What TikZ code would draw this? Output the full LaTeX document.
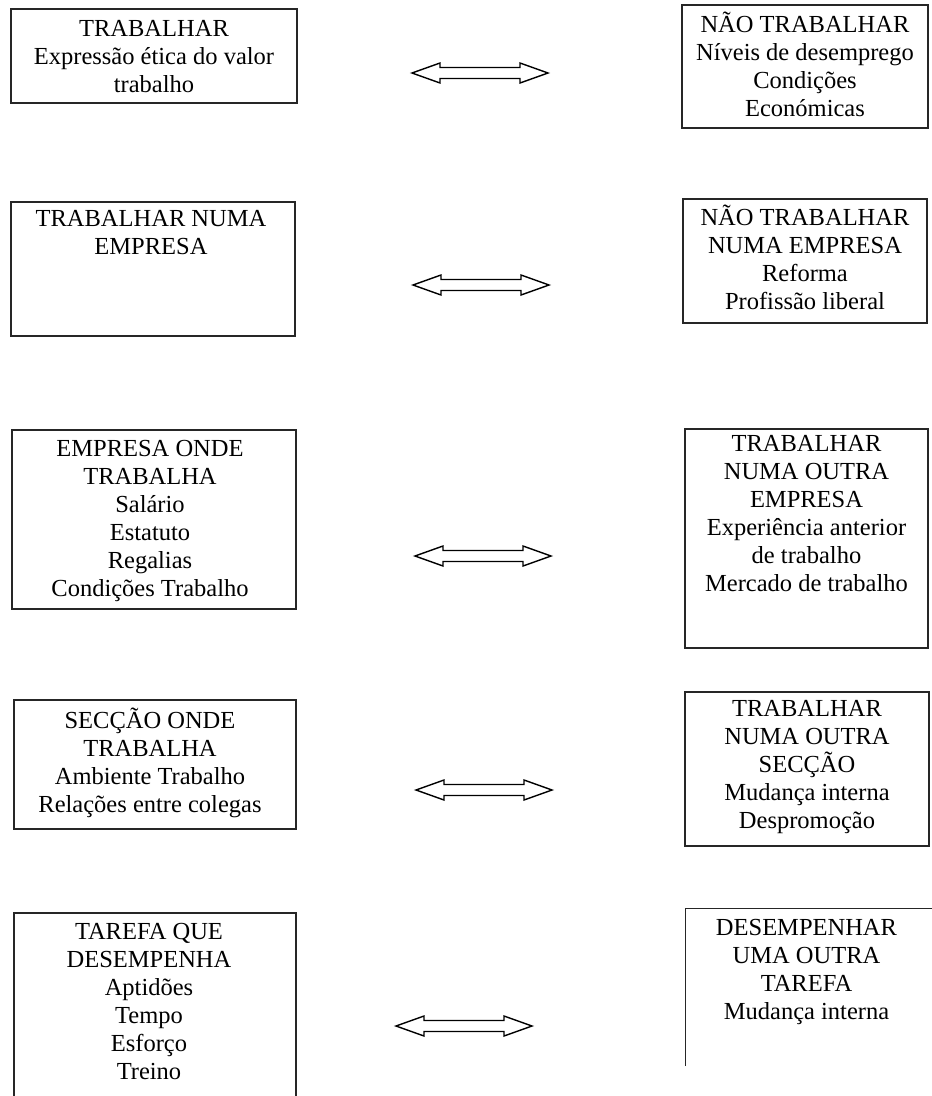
\documentclass[tikz,border=0pt]{standalone}
\usepackage{fontspec}
\setmainfont{Liberation Serif}
\usetikzlibrary{calc}
\begin{document}
\begin{tikzpicture}[x=1pt,y=-1pt,
  box/.style={draw=black!85, line width=1.3pt, inner sep=0pt},
  openbox/.style={inner sep=0pt},
  boxtext/.style={anchor=north, inner sep=0pt, align=center,
    font=\fontsize{24.5}{28}\selectfont},
  dblarrow/.style={draw=black, line width=1.4pt, line join=miter}]
\useasboundingbox (0,0) rectangle (932,1096);
\clip (0,0) rectangle (932,1096);

% left column
\node[box, line width=2pt, minimum width=286pt, minimum height=94pt] (l1) at (154,56) {};
\node[box, minimum width=284pt, minimum height=134pt] (l2) at (153,269) {};
\node[box, minimum width=284pt, minimum height=179pt] (l3) at (154,519.5) {};
\node[box, minimum width=282pt, minimum height=129pt] (l4) at (155,764.5) {};
\node[box, minimum width=282pt, minimum height=197pt] (l5) at (155,1011.5) {};

% right column
\node[box, minimum width=246pt, minimum height=123pt] (r1) at (805,66.5) {};
\node[box, minimum width=244pt, minimum height=124pt] (r2) at (805,261) {};
\node[box, minimum width=243pt, minimum height=219pt] (r3) at (806.5,538.5) {};
\node[box, minimum width=244pt, minimum height=154pt] (r4) at (807,769) {};
\node[openbox, minimum width=249pt, minimum height=157pt] (r5) at (810.5,987.5) {};
\draw[draw=black!85, line width=1.3pt] (r5.south west) -- (r5.north west) -- (r5.north east);

% texts
\node[boxtext] (l1t) at ([yshift=-8.5pt]l1.north) {\strut TRABALHAR\\Expressão ética do valor\\trabalho};
\node[boxtext] (l2t) at ([yshift=-5.5pt,xshift=-2pt]l2.north) {\strut TRABALHAR NUMA\\EMPRESA};
\node[boxtext] (l3t) at ([yshift=-7.5pt,xshift=-4pt]l3.north) {\strut EMPRESA ONDE\\TRABALHA\\Salário\\Estatuto\\Regalias\\Condições Trabalho};
\node[boxtext] (l4t) at ([yshift=-8.5pt,xshift=-5pt]l4.north) {\strut SECÇÃO ONDE\\TRABALHA\\Ambiente Trabalho\\Relações entre colegas};
\node[boxtext] (l5t) at ([yshift=-7.5pt,xshift=-6pt]l5.north) {\strut TAREFA QUE\\DESEMPENHA\\Aptidões\\Tempo\\Esforço\\Treino};

\node[boxtext] (r1t) at ([yshift=-7.5pt]r1.north) {\strut NÃO TRABALHAR\\Níveis de desemprego\\Condições\\Económicas};
\node[boxtext] (r2t) at ([yshift=-6.5pt]r2.north) {\strut NÃO TRABALHAR\\NUMA EMPRESA\\Reforma\\Profissão liberal};
\node[boxtext] (r3t) at ([yshift=-3.5pt]r3.north) {\strut TRABALHAR\\NUMA OUTRA\\EMPRESA\\Experiência anterior\\de trabalho\\Mercado de trabalho};
\node[boxtext] (r4t) at ([yshift=-5.5pt]r4.north) {\strut TRABALHAR\\NUMA OUTRA\\SECÇÃO\\Mudança interna\\Despromoção};
\node[boxtext] (r5t) at ([yshift=-6.5pt,xshift=-4pt]r5.north) {\strut DESEMPENHAR\\UMA OUTRA\\TAREFA\\Mudança interna};

% two-headed hollow arrows between the columns
\coordinate (a1w) at (412,73);  \coordinate (a1e) at (548,73);
\coordinate (a2w) at (413,285); \coordinate (a2e) at (549,285);
\coordinate (a3w) at (415,556); \coordinate (a3e) at (551,556);
\coordinate (a4w) at (416,790); \coordinate (a4e) at (552,790);
\coordinate (a5w) at (396,1026); \coordinate (a5e) at (532,1026);
\foreach \a in {a1,a2,a3,a4,a5}{
  \draw[dblarrow] (\a w) -- ++(28,-10) -- ++(0,4.5) -- ($(\a e)+(-28,-5.5)$)
    -- ++(0,-4.5) -- (\a e) -- ++(-28,10) -- ++(0,-4.5) -- ($(\a w)+(28,5.5)$)
    -- ++(0,4.5) -- cycle;
}
\end{tikzpicture}
\end{document}
